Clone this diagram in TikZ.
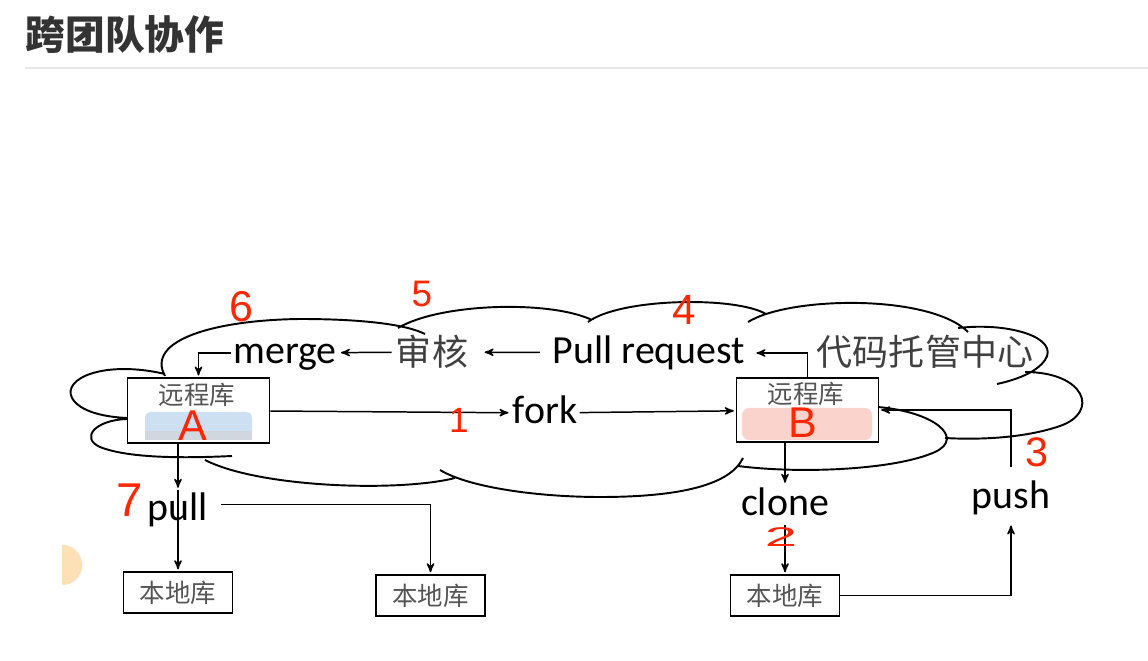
\documentclass[tikz,border=0pt]{standalone}
\usepackage{fontspec}
\setmainfont{Carlito}
\newfontfamily\cjk{Noto Sans CJK SC}
\newfontfamily\hand{Liberation Sans}
\usetikzlibrary{arrows, petri, positioning}
\definecolor{penred}{RGB}{255,38,0}
\definecolor{inkgray}{RGB}{64,64,64}
\definecolor{boxgray}{RGB}{85,85,85}
\definecolor{titlegray}{RGB}{51,51,51}
\definecolor{rulegray}{RGB}{232,232,232}
\definecolor{logoblue}{RGB}{204,224,242}
\definecolor{logogray}{RGB}{208,215,222}
\definecolor{logopink}{RGB}{250,212,204}
\definecolor{dotorange}{RGB}{253,224,182}
\newcommand\pen[1]{\hand\fontsize{#1}{#1}\selectfont}
\tikzstyle{repo}=[rectangle, draw=black, fill=white, line width=1.1pt, minimum width=2.84cm, minimum height=1.29cm, inner sep=0pt]
\tikzstyle{local}=[rectangle, draw=black, fill=white, line width=1.1pt, minimum width=2.18cm, minimum height=0.82cm, inner sep=0pt, text=boxgray, font=\cjk\fontsize{14.5}{16}\selectfont]
\tikzstyle{word}=[font=\fontsize{22.7}{24}\selectfont, text height=15.9pt, text depth=4.5pt, inner sep=1pt]
\tikzstyle{hanzi}=[font=\cjk\fontsize{20.5}{22}\selectfont, text=inkgray, inner sep=2pt]
\tikzstyle{small}=[font=\cjk\fontsize{14.5}{16}\selectfont, text=boxgray, inner sep=0pt]
\tikzstyle{redno}=[text=penred, inner sep=0pt]
\tikzstyle{outline}=[line width=1.1pt]

\begin{document}
\begin{tikzpicture}[x=0.02cm, y=-0.02cm, >=stealth', line width=0.85pt]
    \useasboundingbox (0,0) rectangle (1148,661);

    % Heading.
    \node[font=\cjk\bfseries\fontsize{22.6}{24}\selectfont, text=titlegray, anchor=west, inner sep=0pt] (title) at (25,35) {跨团队协作};
    \draw[rulegray, line width=0.6pt] (25,68) -- (1148,68);
    \begin{scope}
      \clip (62,540) rectangle (90,590);
      \fill[dotorange] (62,565) circle [radius=11.5pt];
    \end{scope}

    % Cloud.
    \draw[outline] (165,376) .. controls (145,340) and (215,320) .. (300,319) .. controls (360,319) and (405,324) .. (425,334)
      (398,328) .. controls (440,303) and (550,300) .. (592,320)
      (588,322) .. controls (620,298) and (735,296) .. (766,314)
      (748,322) .. controls (790,296) and (930,294) .. (968,332)
      (958,328) .. controls (1010,322) and (1060,338) .. (1045,360) .. controls (1036,373) and (1015,380) .. (997,384)
      (1025,372) .. controls (1085,372) and (1100,412) .. (1060,426) .. controls (1025,438) and (980,440) .. (945,438)
      (878,407) .. controls (935,412) and (965,438) .. (935,452) .. controls (895,470) and (800,474) .. (738,466)
      (440,470) .. controls (470,488) and (540,497) .. (600,497) .. controls (680,497) and (730,485) .. (743,458)
      (205,460) .. controls (260,488) and (400,492) .. (455,478)
      (127,419) .. controls (95,420) and (80,438) .. (100,447) .. controls (130,459) and (190,458) .. (232,456)
      (165,374) .. controls (105,360) and (62,378) .. (72,398) .. controls (80,412) and (105,417) .. (127,418);

    % Remote repositories.
    \node[repo] (ra) at (198.5,410.5) {};
    \node[repo] (rb) at (807.5,410) {};
    \fill[logoblue, rounded corners=3pt] (145,412) rectangle (252,440);
    \fill[logogray] (145,431) rectangle (252,440);
    \fill[logopink, rounded corners=4pt] (742,408) rectangle (872,440);
    \node[small] (ralabel) at (197,395) {远程库};
    \node[small] (rblabel) at (806,394) {远程库};
    \node[redno, font=\pen{24.5}] (aname) at (193,426) {A};
    \node[redno, font=\pen{24.5}] (bname) at (803,423) {B};

    % Inside the cloud.
    \node[word] (merge) at (285,353) {merge};
    \node[hanzi] (audit) at (432,352) {审核}
      edge[post] (merge);
    \node[word] (pr) at (649,353) {Pull request}
      edge[post, shorten <=6pt, shorten >=7pt] (audit);
    \node[hanzi] (hub) at (925,352) {代码托管中心};
    \node[word] (fork) at (545,413) {fork}
      edge[pre]  (ra)
      edge[post] (rb);
    \draw[post] (merge.west) -| (ra.north);
    \draw[post, shorten >=5pt] (rb.north) |- (pr.east);

    % Local repositories.
    \node[word] (pull) at (178,510) {pull};
    \node[local] (la) at (178,592.5) {本地库};
    \node[local] (lb) at (430.5,595.5) {本地库};
    \node[word] (clone) at (785,505) {clone};
    \node[local] (lc) at (785,595.5) {本地库};
    \node[word] (push) at (1011,498) {push};
    \draw[post] (ra.south -| pull.north) -- (pull.north);
    \draw[post] (pull.north) -- (la.north);
    \draw[post] ([xshift=6pt, yshift=3pt]pull.east) -| (lb.north);
    \draw[post] (rb.south -| clone.north) -- (clone.north);
    \draw[post] (clone.south) -- (lc.north);
    \draw[post] (lc.east) -| ([yshift=-3pt]push.south);
    \draw[post] ([yshift=6pt]push.north) |- (rb.east);

    % Steps.
    \node[redno, font=\pen{24.5}] (s6) at (241,307) {6};
    \node[redno, font=\pen{21}] (s5) at (422,294) {5};
    \node[redno, font=\pen{24}] (s4) at (684,310) {4};
    \node[redno, font=\pen{20}] (s1) at (459,420) {1};
    \node[redno, font=\pen{27}] (s7) at (130,500) {7};
    \node[redno, font=\pen{22}] (s2) at (781,537) {\scalebox{1.5}[0.7]{2}};
    \node[redno, font=\pen{23.5}] (s3) at (1037,452) {3};
\end{tikzpicture}
\end{document}
